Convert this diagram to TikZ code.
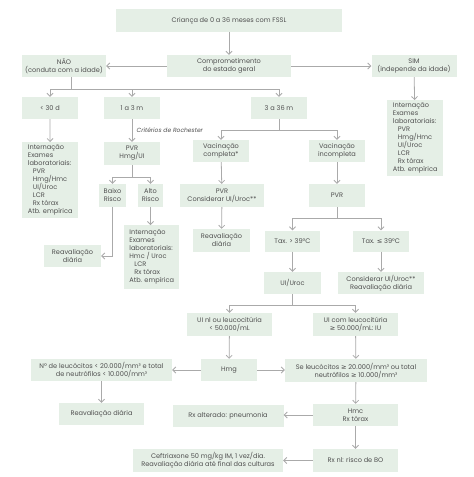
\documentclass[tikz,border=0pt]{standalone}
\usepackage{fontspec}
\setmainfont{Poppins}
\newfontfamily\symfont{DejaVu Sans}
\usetikzlibrary{arrows.meta}
\definecolor{boxgreen}{RGB}{229,239,230}
\definecolor{textgray}{RGB}{80,80,80}
\definecolor{linegray}{RGB}{170,170,170}
\newcommand{\geqsym}{{\symfont ≥}}
\newcommand{\leqsym}{{\symfont ≤}}
\newcommand{\ind}{\hspace*{5pt}}

\begin{document}
\begin{tikzpicture}[x=1pt, y=-1pt,
  box/.style={fill=boxgreen, text=textgray, align=center, inner sep=1pt,
    font=\fontsize{6.6}{8}\selectfont},
  list/.style={box, align=left, anchor=north west, inner sep=2.5pt},
  arr/.style={-{Straight Barb[length=3pt, width=6pt]}, draw=linegray, line width=0.8pt},
  ln/.style={draw=linegray, line width=0.8pt},
  note/.style={font=\fontsize{6}{7}\selectfont\itshape, text=textgray, anchor=west}
]
\useasboundingbox[fill=white] (0,0) rectangle (474,477);

% top levels
\node[box, minimum width=226pt, minimum height=23pt] (top) at (229,20.5) {Criança de 0 a 36 meses com FSSL};
\node[box, minimum width=124pt, minimum height=22pt] (comp) at (229,66) {Comprometimento\\do estado geral};
\node[box, minimum width=84pt, minimum height=22pt] (nao) at (64,66) {NÃO\\(conduta com a idade)};
\node[box, minimum width=85pt, minimum height=22pt] (sim) at (414,66) {SIM\\(independe da idade)};

\node[box, minimum width=56pt, minimum height=22pt] (d30) at (50,108) {< 30 d};
\node[box, minimum width=56pt, minimum height=22pt] (m13) at (132,108) {1 a 3 m};
\node[box, minimum width=56pt, minimum height=22pt] (m336) at (279,108) {3 a 36 m};

\node[list, minimum width=56pt, minimum height=74pt] (intsim) at (387,100)
  {Internação\\Exames\\laboratoriais:\\\ind PVR\\\ind Hmg/Hmc\\\ind UI/Uroc\\\ind LCR\\\ind Rx tórax\\Atb. empírica};
\node[list, minimum width=56pt, minimum height=75pt] (int30) at (22,142)
  {Internação\\Exames\\laboratoriais:\\\ind PVR\\\ind Hmg/Hmc\\\ind UI/Uroc\\\ind LCR\\\ind Rx tórax\\Atb. empírica};

% 1 a 3 m
\node[box, minimum width=56pt, minimum height=23pt] (pvrhmg) at (132,153.5) {PVR\\Hmg/UI};
\node[box, minimum width=27pt, minimum height=23pt] (baixo) at (112.5,195.5) {Baixo\\Risco};
\node[box, minimum width=25pt, minimum height=23pt] (alto) at (150.5,195.5) {Alto\\Risco};
\node[list, minimum width=55pt, minimum height=64pt] (intalto) at (124,225)
  {Internação\\Exames\\laboratoriais:\\Hmc / Uroc\\\ind LCR\\\ind Rx tórax\\Atb. empírica};
\node[box, minimum width=57pt, minimum height=22pt] (reav1) at (72.5,256) {Reavaliação\\diária};

% 3 a 36 m
\node[box, minimum width=56pt, minimum height=22pt] (vaccomp) at (221,151) {Vacinação\\completa*};
\node[box, minimum width=56pt, minimum height=22pt] (vacinc) at (337,151) {Vacinação\\incompleta};
\node[box, minimum width=84pt, minimum height=23pt] (pvrcons) at (222,195.5) {PVR\\Considerar UI/Uroc**};
\node[box, minimum width=57pt, minimum height=23pt] (reav2) at (221.5,240.5) {Reavaliação\\diária};
\node[box, minimum width=56pt, minimum height=23pt] (pvr) at (337,195.5) {PVR};
\node[box, minimum width=55pt, minimum height=21pt] (taxgt) at (292.5,241) {Tax. > 39°C};
\node[box, minimum width=56pt, minimum height=21pt] (taxle) at (381,241) {Tax. \leqsym{} 39°C};
\node[box, minimum width=57pt, minimum height=22pt] (uiuroc) at (292.5,283) {UI/Uroc};
\node[box, minimum width=86pt, minimum height=22pt] (consid) at (381,283) {Considerar UI/Uroc**\\Reavaliação diária};
\node[box, minimum width=85pt, minimum height=23pt] (uinl) at (229.5,324.5) {UI nl ou leucocitúria\\< 50.000/mL};
\node[box, minimum width=85pt, minimum height=23pt] (uicom) at (355.5,324.5) {UI com leucocitúria\\\geqsym{} 50.000/mL: IU};

% bottom part
\node[box, minimum width=56pt, minimum height=22pt] (hmg) at (229,370) {Hmg};
\node[box, minimum width=141pt, minimum height=22pt] (nleuc) at (101.5,370) {Nº de leucócitos < 20.000/mm³ e total\\de neutrófilos < 10.000/mm³};
\node[box, minimum width=142pt, minimum height=23pt] (seleuc) at (356,370.5) {Se leucócitos \geqsym{} 20.000/mm³ ou total\\neutrófilos \geqsym{} 10.000/mm³};
\node[box, minimum width=85pt, minimum height=22pt] (reav3) at (101.5,414) {Reavaliação diária};
\node[box, minimum width=85pt, minimum height=22pt] (hmc) at (355.5,415) {Hmc\\Rx tórax};
\node[box, minimum width=111pt, minimum height=22pt] (rxalt) at (228,416) {Rx alterado: pneumonia};
\node[box, minimum width=85pt, minimum height=23pt] (rxnl) at (355.5,460.5) {Rx nl: risco de BO};
\node[box, minimum width=150pt, minimum height=23pt] (ceft) at (208,460.5) {Ceftriaxone 50 mg/kg IM, 1 vez/dia.\\Reavaliação diária até final das culturas};

% connectors
\draw[arr] (top) -- (comp);
\draw[arr] (comp) -- (nao);
\draw[arr] (comp) -- (sim);
\draw[arr] (sim) -- (intsim);

\coordinate (naobar) at (71,89);
\draw[ln] ([xshift=7pt]nao.south) -- (naobar);
\draw[arr] (naobar) -| (d30);
\draw[arr] (naobar) -| (m13);
\draw[arr] (naobar) -| (m336);

\draw[arr] (d30) -- (int30);
\draw[arr] (m13) -- node[note, xshift=1pt] {Critérios de Rochester} (pvrhmg);

\coordinate (riskbar) at (132,177);
\draw[ln] (pvrhmg) -- (riskbar);
\draw[arr] (riskbar) -| (baixo);
\draw[arr] (riskbar) -| (alto);
\draw[arr] (alto) -- (alto |- intalto.north);
\draw[arr] (baixo) |- (reav1);

\coordinate (vacbar) at (279,130);
\draw[ln] (m336) -- (vacbar);
\draw[arr] (vacbar) -| (vaccomp);
\draw[arr] (vacbar) -| (vacinc);
\draw[arr] (vaccomp) -- (pvrcons);
\draw[arr] (pvrcons) -- (reav2);
\draw[arr] (vacinc) -- (pvr);

\coordinate (taxbar) at (337,218);
\draw[ln] (pvr) -- (taxbar);
\draw[arr] (taxbar) -| (taxgt);
\draw[arr] (taxbar) -| (taxle);
\draw[arr] (taxgt) -- (uiuroc);
\draw[arr] (taxle) -- (consid);

\coordinate (uibar) at (292.5,305);
\draw[ln] (uiuroc) -- (uibar);
\draw[arr] (uibar) -| (uinl);
\draw[arr] (uibar) -| (uicom);
\draw[arr] (uinl) -- (hmg);
\draw[arr] (uicom) -- (seleuc);

\draw[arr] (hmg) -- (nleuc);
\draw[arr] (hmg) -- (hmg -| seleuc.west);
\draw[arr] (nleuc) -- (reav3);
\draw[arr] (seleuc) -- (hmc);
\draw[arr] (hmc) -- (hmc -| rxalt.east);
\draw[arr] (hmc) -- (rxnl);
\draw[arr] (rxnl) -- (ceft);
\end{tikzpicture}
\end{document}
